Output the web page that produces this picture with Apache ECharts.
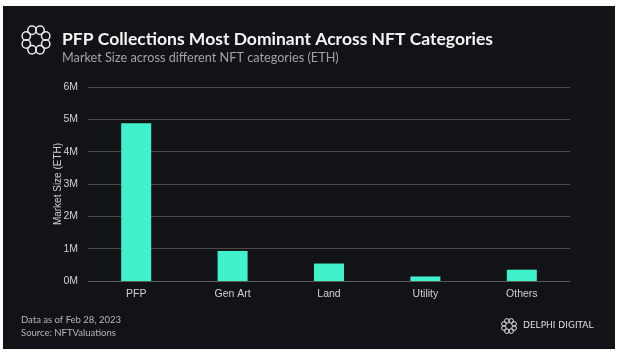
<!DOCTYPE html>
<html>
<head>
<meta charset="utf-8">
<script src="https://cdn.jsdelivr.net/npm/echarts@6/dist/echarts.min.js"></script>
<style>
  html, body { margin: 0; padding: 0; background: #fff; }
  #chart { width: 619px; height: 354px; }
</style>
</head>
<body>
<div id="chart"></div>
<script>
// data
const categories = ['PFP', 'Gen Art', 'Land', 'Utility', 'Others']
const marketSize = [4880000, 930000, 540000, 140000, 350000]
const yTicks = [0, 1000000, 2000000, 3000000, 4000000, 5000000, 6000000]

const titleText = 'PFP Collections Most Dominant Across NFT Categories'
const subtitleText = 'Market Size across different NFT categories (ETH)'
const footNotes = ['Data as of Feb 28, 2023', 'Source: NFTValuations']

const bg = '#121316'
const barColor = '#3ff2cb'

// ring logo made of small interlocking circles
function ringLogo(cx, cy, R, r, lw){
    const parts = []
    for(let i = 0; i < 8; i++){
        const a = i * Math.PI / 4 + Math.PI / 8
        parts.push({
            type: 'circle',
            shape: { cx: cx + R * Math.cos(a), cy: cy + R * Math.sin(a), r: r },
            style: { fill: null, stroke: '#e8e8e8', lineWidth: lw },
            z: 10
        })
    }
    return parts
}

const chart = echarts.init(document.getElementById('chart'))

const option = {
    backgroundColor: '#fff',
    animation: false,
    graphic: [
        { type: 'rect', shape: { x: 3, y: 6, width: 612, height: 343 }, style: { fill: bg }, z: -10 },
        ...ringLogo(36, 40, 10.5, 4.2, 1.5),
        { type: 'text', left: 62, top: 30, style: { text: titleText, fill: '#f4f4f4', font: 'bold 17.5px Lato' }, z: 10 },
        { type: 'text', left: 62, top: 51, style: { text: subtitleText, fill: '#a3a3a3', font: '12.7px Lato' }, z: 10 },
        { type: 'text', left: 21, top: 315, style: { text: footNotes[0], fill: '#b8b8b8', font: '9.5px Lato' }, z: 10 },
        { type: 'text', left: 21, top: 328, style: { text: footNotes[1], fill: '#b8b8b8', font: '9.5px Lato' }, z: 10 },
        ...ringLogo(509, 326, 5.5, 2.3, 1),
        { type: 'text', left: 523, top: 321, style: { text: 'DELPHI DIGITAL', fill: '#e0e0e0', font: '9px "DejaVu Sans"' }, z: 10 }
    ],
    grid: {
        left: 88,
        right: 49,
        top: 87,
        bottom: 73
    },
    xAxis: {
        type: 'category',
        data: categories,
        axisTick: { show: false },
        axisLine: { lineStyle: { color: '#5a5a5a', width: 1 } },
        axisLabel: { color: '#d0d0d0', fontSize: 10.5, fontFamily: 'Liberation Sans', margin: 8 }
    },
    yAxis: {
        type: 'value',
        min: yTicks[0],
        max: yTicks[yTicks.length - 1],
        interval: 1000000,
        name: 'Market Size (ETH)',
        nameLocation: 'middle',
        nameGap: 25,
        nameMoveOverlap: false,
        nameTextStyle: { color: '#d0d0d0', fontSize: 10, fontFamily: 'Liberation Sans' },
        axisLabel: {
            color: '#d0d0d0',
            fontSize: 10.5,
            fontFamily: 'Liberation Sans',
            margin: 10,
            formatter: (v) => (v / 1000000) + 'M'
        },
        splitLine: { lineStyle: { color: '#4a4a4a', width: 1 } }
    },
    series: [
        {
            type: 'bar',
            data: marketSize,
            barWidth: 30,
            itemStyle: { color: barColor }
        }
    ]
}

chart.setOption(option)
</script>
</body>
</html>
